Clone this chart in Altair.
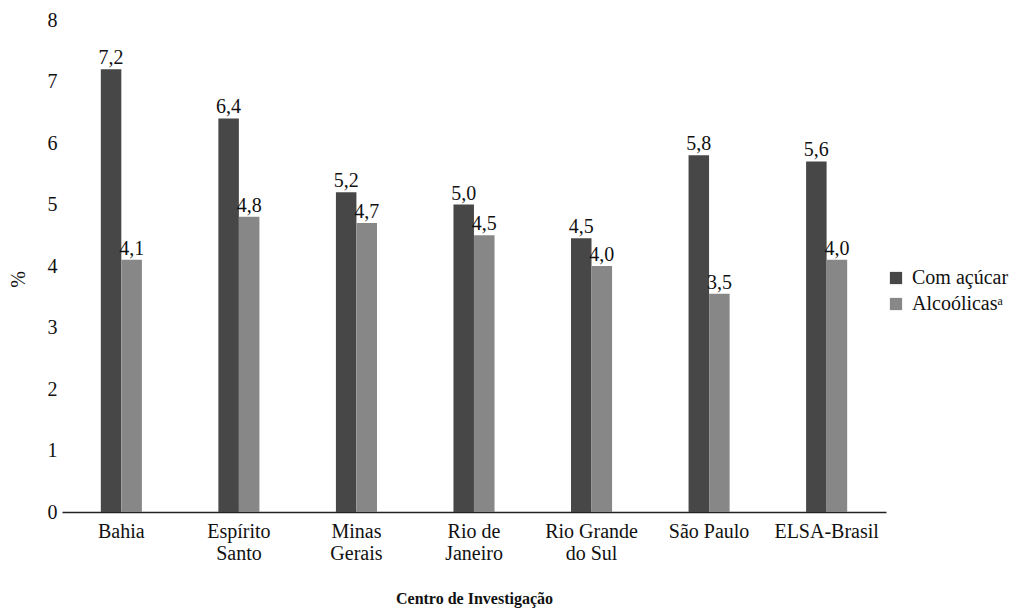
import altair as alt
import pandas as pd

categories = ["Bahia", "Espírito|Santo", "Minas|Gerais", "Rio de|Janeiro",
              "Rio Grande|do Sul", "São Paulo", "ELSA-Brasil"]
series_names = ["Com açúcar", "Alcoólicasᵃ"]
com_acucar = [7.2, 6.4, 5.2, 5.0, 4.45, 5.8, 5.7]
alcoolicas = [4.1, 4.8, 4.7, 4.5, 4.0, 3.55, 4.1]
labels_acucar = ["7,2", "6,4", "5,2", "5,0", "4,5", "5,8", "5,6"]
labels_alcool = ["4,1", "4,8", "4,7", "4,5", "4,0", "3,5", "4,0"]
y_ticks = [0, 1, 2, 3, 4, 5, 6, 7, 8]
colors = ["#474747", "#878787"]

rows = []
for i, c in enumerate(categories):
    rows.append({"centro": c, "serie": series_names[0], "valor": com_acucar[i], "rotulo": labels_acucar[i]})
    rows.append({"centro": c, "serie": series_names[1], "valor": alcoolicas[i], "rotulo": labels_alcool[i]})
df = pd.DataFrame(rows)

FONT = "Liberation Serif"
FS = 20

x_enc = alt.X(
    "centro:N", sort=categories,
    scale=alt.Scale(paddingInner=0.65, paddingOuter=0.33),
    axis=alt.Axis(
        title="Centro de Investigação", labelAngle=0, ticks=False,
        labelExpr="split(datum.value, '|')", labelFontSize=FS, labelFont=FONT,
        labelColor="#111111", labelPadding=9, labelLineHeight=22,
        domainColor="#222222", domainWidth=1.5,
        titleFont=FONT, titleFontSize=16, titleFontWeight="bold", titleColor="#111111",
        titleY=86, titleBaseline="middle",
    ),
)
xoff = alt.XOffset("serie:N", sort=series_names, scale=alt.Scale(paddingInner=0, paddingOuter=0))

y_enc = alt.Y(
    "valor:Q", scale=alt.Scale(domain=[0, 8], nice=False),
    axis=alt.Axis(
        title="%", values=y_ticks, format="d", grid=False, ticks=False, domain=False,
        labelFont=FONT, labelFontSize=FS, labelColor="#111111", labelPadding=5,
        titleFont=FONT, titleFontSize=FS, titleFontWeight="normal", titleColor="#111111",
        titleX=-44, titleY=259, titleAngle=-90, titleBaseline="middle",
    ),
)

color_enc = alt.Color(
    "serie:N", sort=series_names,
    scale=alt.Scale(domain=series_names, range=colors),
    legend=alt.Legend(
        title=None, orient="none", legendX=824, legendY=248,
        symbolType="square", symbolSize=150, symbolStrokeWidth=0,
        labelFont=FONT, labelFontSize=FS, labelColor="#111111",
        rowPadding=6, labelOffset=6,
    ),
)

bars = alt.Chart(df).mark_bar(size=20.5).encode(
    x=x_enc, xOffset=xoff, y=y_enc, color=color_enc
)

text = alt.Chart(df).mark_text(
    font=FONT, fontSize=FS, color="#111111", baseline="alphabetic", dy=-5
).encode(
    x=alt.X("centro:N", sort=categories), xOffset=alt.XOffset("serie:N", sort=series_names),
    y="valor:Q", text="rotulo:N"
)

chart = alt.layer(bars, text).properties(
    width=824, height=492,
    background="white",
    autosize=alt.AutoSizeParams(type="none"),
    padding={"left": 62, "top": 20, "right": 127, "bottom": 96},
).configure_view(
    stroke=None
).configure_axis(
    labelFont=FONT, titleFont=FONT
).configure_legend(
    labelFont=FONT
).configure_text(
    font=FONT
)

chart.save("out.html", embed_options={"renderer": "svg", "actions": False})
